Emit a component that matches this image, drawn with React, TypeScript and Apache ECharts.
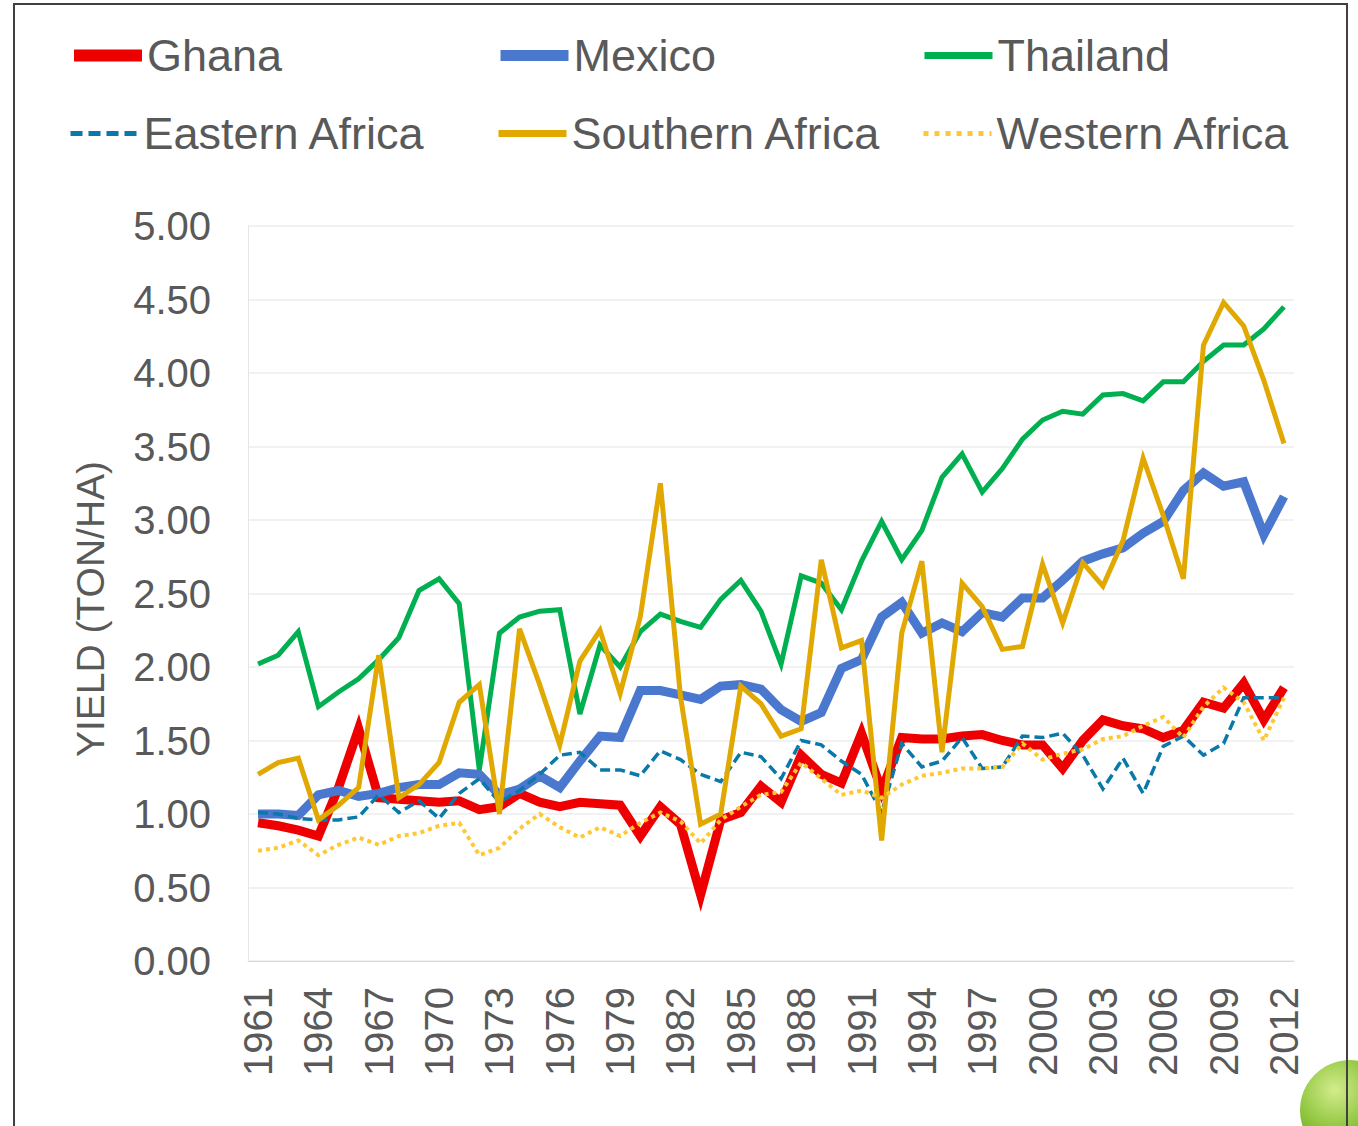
import React, { useEffect, useRef } from "react";
import * as echarts from "echarts";

const years = [
  "1961", "1962", "1963", "1964", "1965", "1966", "1967", "1968", "1969", "1970",
  "1971", "1972", "1973", "1974", "1975", "1976", "1977", "1978", "1979", "1980",
  "1981", "1982", "1983", "1984", "1985", "1986", "1987", "1988", "1989", "1990",
  "1991", "1992", "1993", "1994", "1995", "1996", "1997", "1998", "1999", "2000",
  "2001", "2002", "2003", "2004", "2005", "2006", "2007", "2008", "2009", "2010",
  "2011", "2012",
];

const ghana = [
  0.94, 0.92, 0.89, 0.85, 1.18, 1.58, 1.11, 1.10, 1.09, 1.08,
  1.09, 1.03, 1.05, 1.14, 1.08, 1.05, 1.08, 1.07, 1.06, 0.85,
  1.05, 0.93, 0.45, 0.96, 1.01, 1.19, 1.08, 1.40, 1.27, 1.21,
  1.55, 1.16, 1.52, 1.51, 1.51, 1.53, 1.54, 1.50, 1.47, 1.47,
  1.31, 1.50, 1.64, 1.60, 1.58, 1.52, 1.57, 1.76, 1.72, 1.89,
  1.64, 1.86,
];

const mexico = [
  1.00, 1.00, 0.99, 1.13, 1.16, 1.12, 1.14, 1.18, 1.20, 1.20,
  1.28, 1.27, 1.13, 1.17, 1.26, 1.18, 1.36, 1.53, 1.52, 1.84,
  1.84, 1.81, 1.78, 1.87, 1.88, 1.85, 1.71, 1.63, 1.69, 1.99,
  2.05, 2.34, 2.44, 2.23, 2.30, 2.24, 2.37, 2.34, 2.47, 2.47,
  2.59, 2.72, 2.77, 2.81, 2.91, 2.99, 3.20, 3.32, 3.23, 3.26,
  2.90, 3.16,
];

const thailand = [
  2.02, 2.08, 2.24, 1.73, 1.83, 1.92, 2.05, 2.20, 2.52, 2.60,
  2.43, 1.30, 2.23, 2.34, 2.38, 2.39, 1.68, 2.15, 2.00, 2.24,
  2.36, 2.31, 2.27, 2.46, 2.59, 2.38, 2.02, 2.62, 2.57, 2.39,
  2.72, 2.99, 2.73, 2.93, 3.29, 3.45, 3.19, 3.35, 3.55, 3.68,
  3.74, 3.72, 3.85, 3.86, 3.81, 3.94, 3.94, 4.08, 4.19, 4.19,
  4.30, 4.45,
];

const easternAfrica = [
  1.01, 1.00, 0.97, 0.96, 0.96, 0.98, 1.13, 1.01, 1.09, 0.97,
  1.14, 1.24, 1.08, 1.16, 1.27, 1.40, 1.42, 1.30, 1.30, 1.26,
  1.43, 1.37, 1.27, 1.22, 1.42, 1.39, 1.24, 1.50, 1.47, 1.36,
  1.27, 1.01, 1.48, 1.32, 1.36, 1.52, 1.31, 1.32, 1.53, 1.52,
  1.55, 1.40, 1.17, 1.38, 1.14, 1.46, 1.53, 1.40, 1.48, 1.79,
  1.79, 1.79,
];

const southernAfrica = [
  1.27, 1.35, 1.38, 0.96, 1.06, 1.18, 2.08, 1.11, 1.20, 1.35,
  1.76, 1.88, 1.00, 2.26, 1.88, 1.47, 2.04, 2.25, 1.82, 2.34,
  3.25, 1.80, 0.93, 1.00, 1.87, 1.75, 1.53, 1.58, 2.73, 2.13,
  2.18, 0.82, 2.23, 2.72, 1.42, 2.57, 2.41, 2.12, 2.14, 2.70,
  2.30, 2.71, 2.55, 2.86, 3.42, 3.03, 2.60, 4.19, 4.48, 4.32,
  3.95, 3.52,
];

const westernAfrica = [
  0.75, 0.77, 0.82, 0.72, 0.79, 0.84, 0.79, 0.85, 0.87, 0.92,
  0.94, 0.72, 0.77, 0.90, 1.00, 0.91, 0.84, 0.91, 0.85, 0.94,
  1.01, 0.95, 0.80, 0.96, 1.05, 1.13, 1.15, 1.35, 1.24, 1.13,
  1.16, 1.11, 1.20, 1.26, 1.28, 1.31, 1.31, 1.32, 1.48, 1.37,
  1.41, 1.44, 1.51, 1.53, 1.60, 1.66, 1.52, 1.73, 1.86, 1.76,
  1.50, 1.79,
];

const seriesNames = [
  "Ghana",
  "Mexico",
  "Thailand",
  "Eastern Africa",
  "Southern Africa",
  "Western Africa",
];

const yAxisTitle = "YIELD (TON/HA)";

const FONT = "'Liberation Sans', Arial, sans-serif";
const TEXT = "#595959";

export default function App() {
  const ref = useRef<HTMLDivElement>(null);

  useEffect(() => {
    if (!ref.current) return;
    const chart = echarts.init(ref.current, null, { renderer: "svg" });

    const seriesData = [ghana, mexico, thailand, easternAfrica, southernAfrica, westernAfrica];
    const styles: any[] = [
      { color: "#EE0000", width: 9, type: "solid", lw: 12, lt: "solid" },
      { color: "#4A78CE", width: 9, type: "solid", lw: 11, lt: "solid" },
      { color: "#00B050", width: 5, type: "solid", lw: 7, lt: "solid" },
      { color: "#0A78A8", width: 3.5, type: [10, 5], lw: 5, lt: [12, 6] },
      { color: "#E0A800", width: 5, type: "solid", lw: 7, lt: "solid" },
      { color: "#FFC832", width: 4, type: [4, 4], lw: 5, lt: [5, 6] },
    ];

    const legendPos = [
      { left: 68, top: 33 },
      { left: 495, top: 33 },
      { left: 921, top: 33 },
      { left: 68, top: 111 },
      { left: 495, top: 111 },
      { left: 921, top: 111 },
    ];

    chart.setOption({
      animation: false,
      backgroundColor: "#ffffff",
      textStyle: { fontFamily: FONT },
      legend: seriesNames.map((n, i) => ({
        data: [n],
        left: legendPos[i].left,
        top: legendPos[i].top,
        padding: 0,
        itemWidth: 68,
        itemHeight: 12,
        selectedMode: false,
        itemStyle: { opacity: 0 },
        lineStyle: {
          width: styles[i].lw,
          type: styles[i].lt,
          color: styles[i].color,
          cap: "butt",
        },
        textStyle: {
          fontSize: 45,
          color: TEXT,
          fontFamily: FONT,
          padding: [0, 0, 0, 0],
        },
      })),
      grid: { left: 248, right: 64, top: 226, bottom: 165, containLabel: false },
      xAxis: {
        type: "category",
        data: years,
        boundaryGap: true,
        axisLine: { show: true, lineStyle: { color: "#d9d9d9", width: 1 } },
        axisTick: { show: false },
        axisLabel: {
          interval: 2,
          rotate: 90,
          fontSize: 40,
          color: TEXT,
          fontFamily: FONT,
          margin: 26,
        },
      },
      yAxis: {
        type: "value",
        min: 0,
        max: 5,
        interval: 0.5,
        axisLine: { show: true, lineStyle: { color: "#e6e6e6", width: 1 } },
        axisTick: { show: false },
        splitLine: { show: true, lineStyle: { color: "#ececec", width: 1.5 } },
        axisLabel: {
          fontSize: 40,
          color: TEXT,
          fontFamily: FONT,
          margin: 37,
          formatter: (v: number) => v.toFixed(2),
        },
      },
      series: seriesNames.map((n, i) => ({
        name: n,
        type: "line",
        data: seriesData[i],
        symbol: "none",
        showSymbol: false,
        color: styles[i].color,
        lineStyle: {
          color: styles[i].color,
          width: styles[i].width,
          type: styles[i].type,
          cap: "butt",
          join: "miter",
        },
        z: 2 + i,
      })),
      graphic: [
        {
          type: "text",
          x: 90,
          y: 609,
          rotation: Math.PI / 2,
          style: {
            text: yAxisTitle,
            fontSize: 39,
            fontFamily: FONT,
            fill: TEXT,
            textAlign: "center",
            textVerticalAlign: "middle",
          },
        },
        {
          type: "circle",
          shape: { cx: 1350, cy: 1110, r: 50 },
          style: {
            fill: new echarts.graphic.RadialGradient(0.35, 0.3, 0.8, [
              { offset: 0, color: "#d4ec8c" },
              { offset: 0.5, color: "#8cc43c" },
              { offset: 1, color: "#4f8a1a" },
            ]),
          },
          z: 1,
        },
        {
          type: "rect",
          shape: { x: 14, y: 4, width: 1333, height: 1160 },
          style: { fill: "none", stroke: "#404040", lineWidth: 2 },
          z: 10,
        },
      ],
    });

    return () => chart.dispose();
  }, []);

  return (
    <div
      ref={ref}
      style={{ position: "fixed", left: 0, top: 0, width: 1358, height: 1126, background: "#fff" }}
    />
  );
}
